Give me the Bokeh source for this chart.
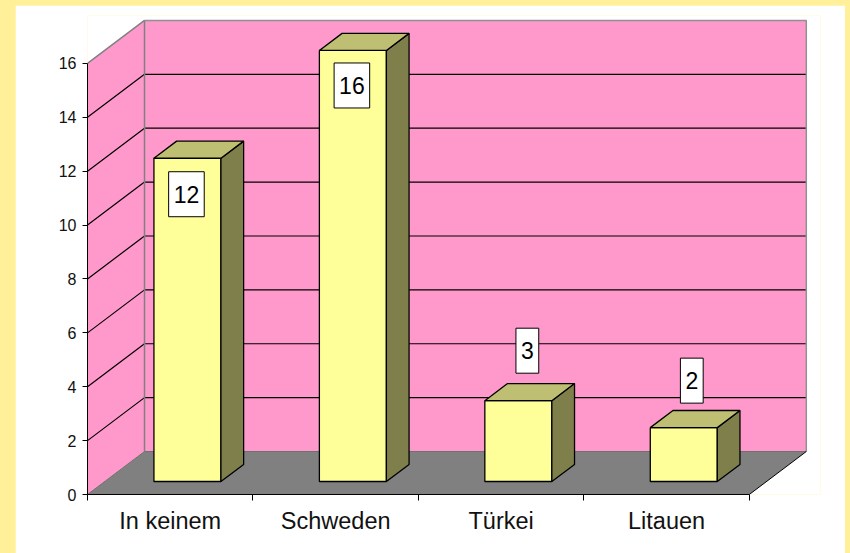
from bokeh.embed import file_html
from bokeh.resources import INLINE
from bokeh.layouts import column
from bokeh.models import FixedTicker, LinearAxis, Range1d
from bokeh.plotting import figure
from bokeh.core.properties import value as fixed

categories = ["In keinem", "Schweden", "Türkei", "Litauen"]
values = [12, 16, 3, 2]
y_ticks = [0, 2, 4, 6, 8, 10, 12, 14, 16]

PX_X, PX_Y = 165.45, 26.94
DX, DY = 57 / PX_X, 43 / PX_Y
BAR_W = 67 / PX_X
D0, D1 = 0.302, 0.70
FONT = "Liberation Sans"

p = figure(width=830, height=548, output_backend="svg", toolbar_location=None,
           x_range=Range1d(0, 733 / PX_X), y_range=Range1d(0, 479 / PX_Y),
           min_border_left=72, min_border_right=25, min_border_top=10, min_border_bottom=59,
           x_axis_type=None, y_axis_type=None, background_fill_color="white",
           border_fill_color="white", outline_line_color=None, margin=(5, 5, 0, 15))
p.grid.visible = False

def proj(x, v, d):
    return x + DX * d, v + DY * d

n = len(categories)
top = max(y_ticks)
# walls and floor
p.patch([0, DX, DX, 0], [0, DY, top + DY, top], fill_color="#FF99CC", line_color=None)
p.patch([DX, n + DX, n + DX, DX], [DY, DY, top + DY, top + DY], fill_color="#FF99CC", line_color=None)
p.patch([0, n, n + DX, DX], [0, 0, DY, DY], fill_color="#808080", line_color=None)
# grid
for t in y_ticks[1:-1]:
    p.line([0, DX, n + DX], [t, t + DY, t + DY], line_color="#000000", line_width=1.2)
# wall edges
p.line([0, DX, DX], [top, top + DY, DY], line_color="#808080", line_width=1.5)
p.line([DX, n + DX, n + DX], [top + DY, top + DY, DY], line_color="#909090", line_width=1.5)
p.line([0, DX, n + DX], [0, DY, DY], line_color="#707070", line_width=1)
p.line([n, n + DX], [0, DY], line_color="#000000", line_width=1)

# bars
for i, v in enumerate(values):
    x0 = i + 0.5 - BAR_W / 2
    x1 = x0 + BAR_W
    a = [proj(x0, 0, D0), proj(x1, 0, D0), proj(x1, v, D0), proj(x0, v, D0)]
    p.patch([q[0] for q in a], [q[1] for q in a], fill_color="#FFFF99", line_color="black", line_width=1.3)
    b = [proj(x1, 0, D0), proj(x1, 0, D1), proj(x1, v, D1), proj(x1, v, D0)]
    p.patch([q[0] for q in b], [q[1] for q in b], fill_color="#7F7F4C", line_color="black", line_width=1.3)
    c = [proj(x0, v, D0), proj(x1, v, D0), proj(x1, v, D1), proj(x0, v, D1)]
    p.patch([q[0] for q in c], [q[1] for q in c], fill_color="#BFBF73", line_color="black", line_width=1.3)

# value labels
label_dy = [36, 35, -50, -47]
label_dx = [-1, -1, 9, 8]
for i, v in enumerate(values):
    lx, ly = proj(i + 0.5, v, D0)
    p.text([lx], [ly], text=[str(v)], x_offset=label_dx[i], y_offset=label_dy[i],
           text_font=fixed(FONT), text_font_size="23px", text_color="black",
           text_align="center", text_baseline="middle", background_fill_color="white",
           border_line_color="black", border_line_width=1, padding=(5, 14))

# axes
yax = LinearAxis(ticker=FixedTicker(ticks=y_ticks), bounds=(0, top))
yax.axis_line_color = "black"
yax.major_tick_line_color = "black"
yax.major_tick_out = 5
yax.major_tick_in = 0
yax.major_label_standoff = 6
yax.major_label_text_font = FONT
yax.major_label_text_font_size = "16px"
yax.major_label_text_color = "#111111"
p.add_layout(yax, "left")

xax = LinearAxis(ticker=FixedTicker(ticks=[i + 0.5 for i in range(n)], minor_ticks=list(range(n + 1))),
                 bounds=(0, n),
                 major_label_overrides={i + 0.5: c for i, c in enumerate(categories)})
xax.axis_line_color = "black"
xax.major_tick_line_color = None
xax.minor_tick_line_color = "black"
xax.minor_tick_out = 6
xax.minor_tick_in = 0
xax.major_tick_out = 0
xax.major_tick_in = 0
xax.major_label_standoff = 7
xax.major_label_text_font = FONT
xax.major_label_text_font_size = "23.5px"
xax.major_label_text_color = "#111111"
p.add_layout(xax, "below")

page = column(p, width=850, height=553, styles={"background-color": "#FFF099"})
open("out.html", "w").write(file_html(page, INLINE))
